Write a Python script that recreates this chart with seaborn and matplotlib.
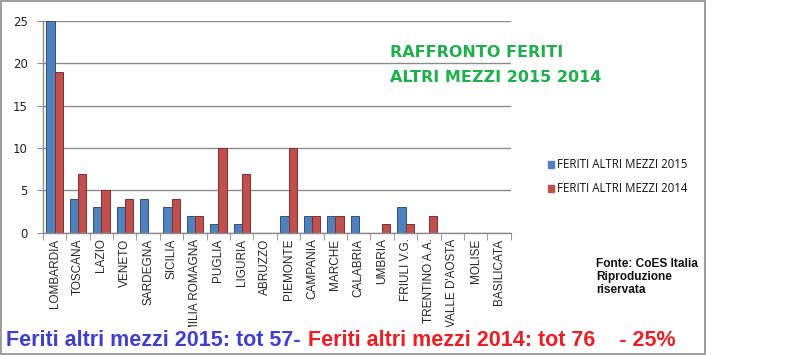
import matplotlib
matplotlib.use('Agg')
import numpy as np
import pandas as pd
import matplotlib.pyplot as plt
from matplotlib.patches import Rectangle
from matplotlib.transforms import Bbox, TransformedBbox
import seaborn as sns

regioni = ['LOMBARDIA', 'TOSCANA', 'LAZIO', 'VENETO', 'SARDEGNA', 'SICILIA',
           'EMILIA ROMAGNA', 'PUGLIA', 'LIGURIA', 'ABRUZZO', 'PIEMONTE',
           'CAMPANIA', 'MARCHE', 'CALABRIA', 'UMBRIA', 'FRIULI V.G.',
           'TRENTINO A.A.', "VALLE D'AOSTA", 'MOLISE', 'BASILICATA']
feriti_2015 = [25, 4, 3, 3, 4, 3, 2, 1, 1, 0, 2, 2, 2, 2, 0, 3, 0, 0, 0, 0]
feriti_2014 = [19, 7, 5, 4, 0, 4, 2, 10, 7, 0, 10, 2, 2, 0, 1, 1, 2, 0, 0, 0]
serie = ['FERITI ALTRI MEZZI 2015', 'FERITI ALTRI MEZZI 2014']
colori = ['#4F81BD', '#C0504D']

df = pd.DataFrame({
    'regione': regioni * 2,
    'feriti': feriti_2015 + feriti_2014,
    'serie': [serie[0]] * len(regioni) + [serie[1]] * len(regioni),
})

sns.set_style('white')
plt.rcParams['font.family'] = ['Liberation Sans', 'DejaVu Sans']

fig = plt.figure(figsize=(8.09, 3.55), dpi=100)
ax = fig.add_axes([0.053, 0.344, 0.5785, 0.597])
sns.barplot(data=df, x='regione', y='feriti', hue='serie', palette=colori,
            width=0.7, saturation=1, legend=False, ax=ax)
for i, p in enumerate(ax.patches):
    p.set_edgecolor('#2F4F7F' if i < len(regioni) else '#7F2F2D')
    p.set_linewidth(0.7)

ax.set_ylim(0, 25)
ax.set_xlim(-0.5, len(regioni) - 0.5)
ax.set_yticks([0, 5, 10, 15, 20, 25])
ax.yaxis.grid(True, color='#8C8C8C', linewidth=1.0)
ax.set_axisbelow(True)
ax.set_xlabel('')
ax.set_ylabel('')
for s in ['top', 'right']:
    ax.spines[s].set_visible(False)
for s in ['left', 'bottom']:
    ax.spines[s].set_color('#8C8C8C')
    ax.spines[s].set_linewidth(1.0)
ax.tick_params(axis='y', labelsize=8.5, length=4, color='#8C8C8C', left=True,
               labelcolor='#222222', pad=7)
for lab in ax.get_yticklabels():
    lab.set_family(['DejaVu Sans'])
ax.set_xticks(np.arange(len(regioni)))
ax.set_xticklabels(regioni, rotation=90, fontsize=8.5, va='top')
ax.tick_params(axis='x', which='major', length=0, pad=4)
ax.set_xticks(np.arange(len(regioni) + 1) - 0.5, minor=True)
ax.tick_params(axis='x', which='minor', length=5, color='#8C8C8C', bottom=True)

# le etichette lunghe finiscono sotto la scritta in basso: tagliate come nell'originale
clip = TransformedBbox(Bbox([[0, 0.078], [1, 1]]), fig.transFigure)
for lab in ax.get_xticklabels():
    lab.set_clip_box(clip)
    lab.set_clip_on(True)

# legenda
for i, (lab, col) in enumerate(zip(serie, colori)):
    y = 0.537 - i * 0.068
    fig.patches.append(Rectangle((0.6775, y - 0.01), 0.0075, 0.02, color=col,
                                 transform=fig.transFigure, figure=fig))
    fig.text(0.689, y, lab, fontsize=8.3, va='center', ha='left',
             family=['Open Sans', 'DejaVu Sans'], color='#111111')

# titolo
fig.text(0.482, 0.853, 'RAFFRONTO FERITI', color='#1DB04B', fontsize=11.5,
         fontweight='heavy', family=['DejaVu Sans'], va='center')
fig.text(0.482, 0.782, 'ALTRI MEZZI 2015 2014', color='#1DB04B', fontsize=11.5,
         fontweight='heavy', family=['DejaVu Sans'], va='center')

fig.text(0.737, 0.22, 'Fonte: CoES Italia\nRiproduzione\nriservata',
         fontsize=8.6, fontweight='bold', color='#111111', va='center',
         linespacing=1.1)

t1 = fig.text(0.008, 0.04, 'Feriti altri mezzi 2015: tot 57-', color='#3F3FCF',
              fontsize=15.5, fontweight='bold', va='center')
ax.annotate('Feriti altri mezzi 2014: tot 76    - 25%', xy=(1, 0.5), xycoords=t1,
            xytext=(5, 0), textcoords='offset points', color='#EE1C25',
            fontsize=15.5, fontweight='bold', va='center', ha='left',
            annotation_clip=False)

fig.patches.append(Rectangle((0.001, 0.003), 0.871, 0.994, fill=False,
                             edgecolor='#8C8C8C', linewidth=1.2,
                             transform=fig.transFigure, figure=fig))

fig.savefig('out.png', dpi=100)
plt.close()
